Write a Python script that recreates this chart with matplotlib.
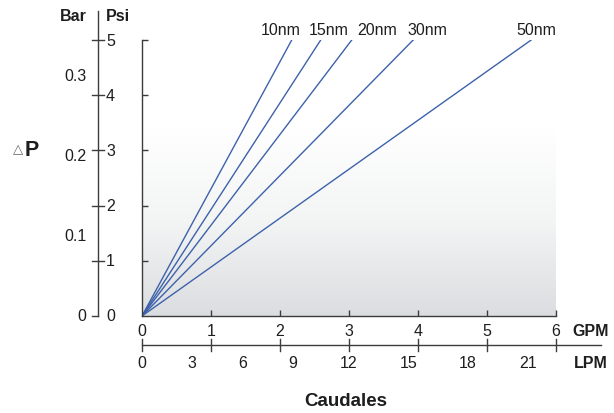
import numpy as np
import matplotlib
matplotlib.use("Agg")
import matplotlib.pyplot as plt
from matplotlib.colors import LinearSegmentedColormap

plt.rcParams['font.family'] = ['Liberation Sans', 'DejaVu Sans']

# Filter grades and the flow (GPM) at which each reaches 5 psi
grades = ["10nm", "15nm", "20nm", "30nm", "50nm"]
flow_at_5psi = [2.17, 2.59, 3.04, 3.93, 5.64]
grade_label_pos = [2.01, 2.70, 3.41, 4.14, 5.71]
psi_max = 5

gpm_ticks = [0, 1, 2, 3, 4, 5, 6]
psi_ticks = [0, 1, 2, 3, 4, 5]
bar_ticks = [0, 0.1, 0.2, 0.3]
lpm_labels = ["0", "3", "6", "9", "12", "15", "18", "21"]
lpm_label_pos = [0, 0.72, 1.46, 2.19, 2.99, 3.86, 4.72, 5.59]

PSI_PER_BAR = 14.5038

W, H = 614, 414
fig = plt.figure(figsize=(W / 100, H / 100), dpi=100)
ax = fig.add_axes([142 / W, (H - 317) / H, 414 / W, (317 - 41) / H])
ax.set_xlim(0, 6)
ax.set_ylim(0, 5)

ink = "#3c3c3c"
txt = "#1e1e1e"
line_col = "#3d62aa"
FS = 11.5

# Grey gradient in the lower part of the plot area
cmap = LinearSegmentedColormap.from_list("bg", ["#ffffff", "#f3f4f4", "#dcdde0"])
grad = np.linspace(0, 1, 256).reshape(-1, 1)
ax.imshow(grad, extent=[0, 6, 0, 3.42], aspect="auto", cmap=cmap,
          origin="upper", zorder=0)

for g, q, lx in zip(grades, flow_at_5psi, grade_label_pos):
    ax.plot([0, q], [0, psi_max], color=line_col, lw=1.0, zorder=2)
    ax.text(lx, psi_max + 0.19, g, ha="center", va="center", fontsize=FS,
            color=txt)

for s in ["top", "right"]:
    ax.spines[s].set_visible(False)
for s in ["left", "bottom"]:
    ax.spines[s].set_color(ink)
    ax.spines[s].set_linewidth(1.0)
ax.set_xticks(gpm_ticks[1:])
ax.set_yticks(psi_ticks[1:])
ax.tick_params(direction="in", length=4, width=1, color=ink,
               labelleft=False, labelbottom=False)

# GPM labels
for g in gpm_ticks:
    ax.text(g, -0.26, str(g), ha="center", va="center", fontsize=FS, color=txt,
            clip_on=False)
ax.text(6.5, -0.26, "GPM", ha="center", va="center", fontsize=FS,
        fontweight="bold", color=txt)

# LPM scale
y_lpm = (317 - 346) / 55.2
ax.plot([0, 6.65], [y_lpm, y_lpm], color=ink, lw=1.0, clip_on=False)
for g in gpm_ticks:
    ax.plot([g, g], [y_lpm - 0.11, y_lpm + 0.11], color=ink, lw=1.0, clip_on=False)
for lab, p in zip(lpm_labels, lpm_label_pos):
    ax.text(p, y_lpm - 0.31, lab, ha="center", va="center", fontsize=FS,
            color=txt)
ax.text(6.5, y_lpm - 0.31, "LPM", ha="center", va="center", fontsize=FS,
        fontweight="bold", color=txt)

# Psi / Bar scale on the left
x_psi = (98 - 142) / 69.0
ax.plot([x_psi, x_psi], [0, 5.52], color=ink, lw=1.0, clip_on=False)
for p in psi_ticks:
    x0 = x_psi - 0.08
    x1 = x_psi + (0.08 if p > 0 else 0)
    ax.plot([x0, x1], [p, p], color=ink, lw=1.0, clip_on=False)
    ax.text(x_psi + 0.18, p, str(p), ha="center", va="center", fontsize=FS,
            color=txt)
for b in bar_ticks:
    ax.text(x_psi - 0.17, b * PSI_PER_BAR, f"{b:g}", ha="right", va="center",
            fontsize=FS, color=txt)
ax.text(x_psi - 0.355, 5.45, "Bar", ha="center", va="center", fontsize=FS,
        fontweight="bold", color=txt)
ax.text(x_psi + 0.29, 5.45, "Psi", ha="center", va="center", fontsize=FS,
        fontweight="bold", color=txt)

# Delta-P label
fig.text(18 / W, 1 - 150 / H, "△", ha="center", va="center", fontsize=9.5,
         color="#666666", family="DejaVu Sans")
fig.text(31.5 / W, 1 - 151 / H, "P", ha="center", va="center", fontsize=15.5,
         fontweight="bold", color=txt)

fig.text(346 / W, 1 - 402 / H, "Caudales", ha="center", va="center",
         fontsize=13.5, fontweight="bold", color=txt)

fig.savefig("out.png", dpi=100)
